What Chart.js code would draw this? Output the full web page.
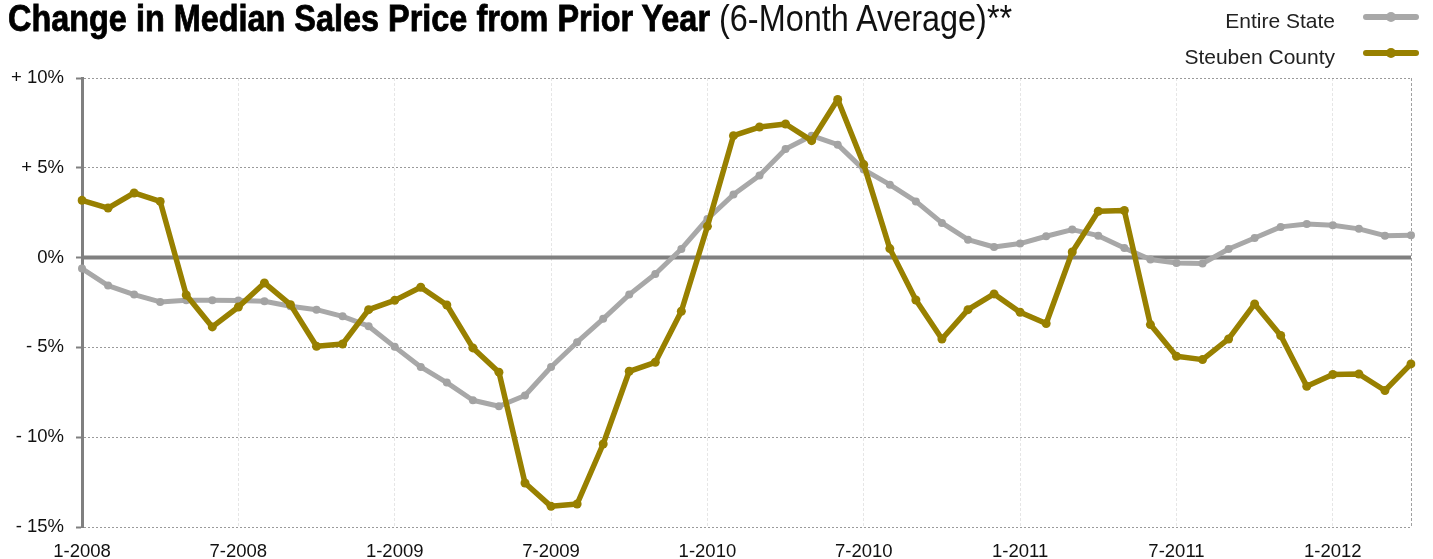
<!DOCTYPE html>
<html>
<head>
<meta charset="utf-8">
<script src="https://cdn.jsdelivr.net/npm/chart.js@4.4.1/dist/chart.umd.min.js"></script>
<style>
  html, body { margin: 0; padding: 0; background: #fff; }
  #wrap { position: relative; width: 1433px; height: 559px; overflow: hidden; }
  #chart { position: absolute; left: 0; top: 0; }
  #title {
    position: absolute; left: 8px; top: 1px; white-space: nowrap;
    font-family: "Liberation Sans Narrow", "Liberation Sans", Arial, sans-serif;
    font-size: 36px; line-height: 36px; color: #000;
    transform-origin: 0 0;
  }
  #title b { font-weight: bold; -webkit-text-stroke: 0.8px #000; }
  #title span { font-weight: normal; color: #111; }
  .legend-item {
    position: absolute; right: 98px; white-space: nowrap;
    font-family: "Liberation Sans", Arial, sans-serif;
    font-size: 21px; line-height: 21px; color: #222;
  }
  .swatch {
    position: absolute; left: 1363px; width: 56px; height: 6px; border-radius: 3px;
  }
  .swatch::after {
    content: ""; position: absolute; left: 23px; top: -2px;
    width: 10px; height: 10px; border-radius: 5px; background: inherit;
  }
</style>
</head>
<body>
<div id="wrap">
  <canvas id="chart" width="1433" height="559"></canvas>
  <div id="title"><b>Change in Median Sales Price from Prior Year</b><span> (6-Month Average)**</span></div>
  <div class="legend-item" style="top:10px">Entire State</div>
  <div class="swatch" style="top:14px; background:#a8a8a8"></div>
  <div class="legend-item" style="top:46px">Steuben County</div>
  <div class="swatch" style="top:50px; background:#988000"></div>
</div>
<script>
// months, Jan 2008 - Apr 2012
const months = [
  '1-2008', '2-2008', '3-2008', '4-2008', '5-2008', '6-2008', '7-2008', '8-2008', '9-2008', '10-2008', '11-2008', '12-2008',
  '1-2009', '2-2009', '3-2009', '4-2009', '5-2009', '6-2009', '7-2009', '8-2009', '9-2009', '10-2009', '11-2009', '12-2009',
  '1-2010', '2-2010', '3-2010', '4-2010', '5-2010', '6-2010', '7-2010', '8-2010', '9-2010', '10-2010', '11-2010', '12-2010',
  '1-2011', '2-2011', '3-2011', '4-2011', '5-2011', '6-2011', '7-2011', '8-2011', '9-2011', '10-2011', '11-2011', '12-2011',
  '1-2012', '2-2012', '3-2012', '4-2012'
];

// % change in median sales price vs prior year, 6-month average
const entireState = [
  -0.61, -1.56, -2.06, -2.47, -2.38, -2.38, -2.39, -2.43, -2.71, -2.90, -3.27, -3.82,
  -4.97, -6.09, -6.96, -7.94, -8.28, -7.68, -6.09, -4.71, -3.41, -2.06, -0.91, 0.48,
  2.15, 3.51, 4.57, 6.05, 6.79, 6.29, 4.90, 4.06, 3.13, 1.93, 1.00, 0.59,
  0.78, 1.19, 1.56, 1.22, 0.54, -0.11, -0.30, -0.33, 0.48, 1.09, 1.71, 1.87,
  1.80, 1.60, 1.22, 1.24
];
const steubenCounty = [
  3.19, 2.76, 3.60, 3.13, -2.08, -3.86, -2.75, -1.41, -2.62, -4.94, -4.81, -2.90,
  -2.38, -1.65, -2.64, -5.03, -6.38, -12.55, -13.85, -13.72, -10.38, -6.33, -5.83, -2.99,
  1.74, 6.79, 7.27, 7.44, 6.51, 8.80, 5.18, 0.50, -2.36, -4.53, -2.90, -2.02,
  -3.04, -3.67, 0.31, 2.58, 2.62, -3.73, -5.49, -5.68, -4.53, -2.58, -4.34, -7.16,
  -6.51, -6.48, -7.40, -5.92
];

const yTicks = [-15, -10, -5, 0, 5, 10];

// squeeze the title to its column width
const title = document.getElementById('title');
title.style.transform = 'scaleX(' + (1004 / title.scrollWidth) + ')';

// heavy zero line under the series
const zeroLine = {
  id: 'zeroLine',
  beforeDatasetsDraw(chart) {
    const { ctx, chartArea, scales } = chart;
    const y = scales.y.getPixelForValue(0);
    ctx.save();
    ctx.strokeStyle = '#808080';
    ctx.lineWidth = 4;
    ctx.beginPath();
    ctx.moveTo(chartArea.left, y);
    ctx.lineTo(chartArea.right, y);
    ctx.stroke();
    ctx.restore();
  }
};

const tickFont = { family: '"Liberation Sans", Arial, sans-serif', size: 18.5 };

new Chart(document.getElementById('chart'), {
  type: 'line',
  data: {
    labels: months,
    datasets: [{
      label: 'Steuben County',
      data: steubenCounty,
      borderColor: '#988000',
      backgroundColor: '#988000',
      pointBackgroundColor: '#988000',
      borderWidth: 5.5,
      pointRadius: 4.5,
      pointBorderWidth: 0,
      tension: 0,
      borderJoinStyle: 'round',
      borderCapStyle: 'round',
      order: 0
    }, {
      label: 'Entire State',
      data: entireState,
      borderColor: '#a8a8a8',
      backgroundColor: '#a8a8a8',
      pointBackgroundColor: '#a3a3a3',
      borderWidth: 5,
      pointRadius: 4,
      pointBorderWidth: 0,
      tension: 0,
      borderJoinStyle: 'round',
      borderCapStyle: 'round',
      order: 1
    }]
  },
  options: {
    responsive: false,
    animation: false,
    events: [],
    layout: { padding: { top: 78, right: 22, bottom: 0, left: 0 } },
    plugins: {
      legend: { display: false },
      tooltip: { enabled: false }
    },
    scales: {
      x: {
        offset: false,
        border: { display: false, dash: [3, 2] },
        grid: {
          drawTicks: false,
          lineWidth: 1,
          color: (c) => {
            if (c.index === months.length - 1) return '#a0a0a0';
            return c.index % 6 === 0 ? '#e6e6e6' : 'rgba(0,0,0,0)';
          }
        },
        ticks: {
          autoSkip: false,
          maxRotation: 0,
          padding: 14,
          color: '#111',
          font: tickFont,
          callback: (v, i) => (i % 6 === 0 ? months[i] : '')
        },
        afterFit: (scale) => { scale.height = 32; }
      },
      y: {
        min: -15,
        max: 10,
        afterBuildTicks: (scale) => { scale.ticks = yTicks.map(v => ({ value: v })); },
        border: { display: true, color: '#808080', width: 3, dash: [2, 2] },
        grid: {
          lineWidth: 1,
          color: (c) => (c.tick && c.tick.value === 0 ? 'rgba(0,0,0,0)' : '#9a9a9a'),
          drawTicks: true,
          tickLength: 6,
          tickWidth: 2,
          tickColor: '#808080',
          tickBorderDash: []
        },
        ticks: {
          padding: 12,
          color: '#111',
          font: tickFont,
          callback: (v) => (v > 0 ? '+ ' + v + '%' : v < 0 ? '- ' + Math.abs(v) + '%' : '0%')
        },
        afterFit: (scale) => { scale.width = 82; }
      }
    }
  },
  plugins: [zeroLine]
});
</script>
</body>
</html>
